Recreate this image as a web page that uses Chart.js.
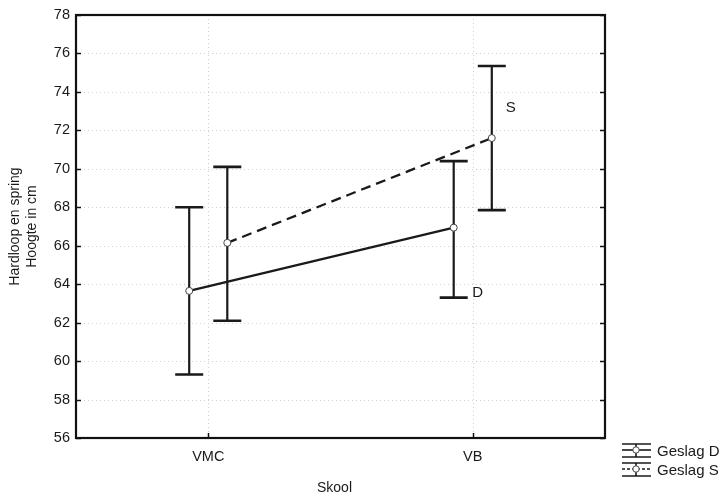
<!DOCTYPE html>
<html>
<head>
<meta charset="utf-8">
<script src="https://cdn.jsdelivr.net/npm/chart.js@4/dist/chart.umd.min.js"></script>
<style>
  html, body { margin: 0; padding: 0; background: #ffffff; }
  #wrap { width: 723px; height: 499px; }
</style>
</head>
<body>
<div id="wrap"><canvas id="c" width="723" height="499"></canvas></div>
<script>
// ---- Data ----
const categories = ['VMC', 'VB'];
const seriesNames = ['Geslag D', 'Geslag S'];
const seriesTags = ['D', 'S'];
const dMean = [63.65, 66.94];
const dLow  = [59.3, 63.3];
const dHigh = [68.0, 70.4];
const sMean = [66.15, 71.6];
const sLow  = [62.1, 67.85];
const sHigh = [70.1, 75.35];
const yTickValues = [56, 58, 60, 62, 64, 66, 68, 70, 72, 74, 76, 78];
const yMin = 56, yMax = 78;

const FONT = '"Liberation Sans", Arial, sans-serif';
const INK = '#1a1a1a';
const groupOffset = [-0.072, 0.072];   // side-by-side shift within a category

const series = [
  { name: seriesNames[0], tag: seriesTags[0], mean: dMean, low: dLow, high: dHigh, dash: [] },
  { name: seriesNames[1], tag: seriesTags[1], mean: sMean, low: sLow, high: sHigh, dash: [10, 6] }
];

const datasets = series.map((s, k) => ({
  label: s.name,
  data: categories.map((c, i) => ({ x: i + groupOffset[k], y: s.mean[i] })),
  showLine: true,
  borderColor: INK,
  borderWidth: 2.3,
  borderDash: s.dash,
  pointRadius: 3.5,
  pointHoverRadius: 3.5,
  pointBackgroundColor: '#ffffff',
  pointBorderColor: '#444444',
  pointBorderWidth: 1,
  fill: false,
  tension: 0
}));

const customDraw = {
  id: 'customDraw',
  beforeDatasetsDraw(chart) {
    const ctx = chart.ctx, a = chart.chartArea;
    const xs = chart.scales.x, ys = chart.scales.y;
    ctx.save();
    // dotted grid
    ctx.strokeStyle = '#cfcfcf';
    ctx.lineWidth = 1;
    ctx.setLineDash([1, 3]);
    yTickValues.forEach(v => {
      if (v === yMin || v === yMax) return;
      const y = Math.round(ys.getPixelForValue(v)) + 0.5;
      ctx.beginPath(); ctx.moveTo(a.left, y); ctx.lineTo(a.right, y); ctx.stroke();
    });
    categories.forEach((c, i) => {
      const x = Math.round(xs.getPixelForValue(i)) + 0.5;
      ctx.beginPath(); ctx.moveTo(x, a.top); ctx.lineTo(x, a.bottom); ctx.stroke();
    });
    ctx.setLineDash([]);
    // error bars
    ctx.strokeStyle = INK;
    series.forEach((s, k) => {
      categories.forEach((c, i) => {
        const x = xs.getPixelForValue(i + groupOffset[k]);
        const yh = ys.getPixelForValue(s.high[i]);
        const yl = ys.getPixelForValue(s.low[i]);
        ctx.lineWidth = 2.2;
        ctx.beginPath(); ctx.moveTo(x, yh); ctx.lineTo(x, yl); ctx.stroke();
        ctx.lineWidth = 2.6;
        ctx.beginPath();
        ctx.moveTo(x - 14, yh); ctx.lineTo(x + 14, yh);
        ctx.moveTo(x - 14, yl); ctx.lineTo(x + 14, yl);
        ctx.stroke();
      });
    });
    ctx.restore();
  },
  afterDraw(chart) {
    const ctx = chart.ctx, a = chart.chartArea;
    const xs = chart.scales.x, ys = chart.scales.y;
    ctx.save();
    // frame
    ctx.strokeStyle = '#111';
    ctx.lineWidth = 2.2;
    ctx.strokeRect(a.left, a.top, a.right - a.left, a.bottom - a.top);
    // inward tick marks
    ctx.lineWidth = 1.5;
    yTickValues.forEach(v => {
      const y = Math.round(ys.getPixelForValue(v)) + 0.5;
      ctx.beginPath();
      ctx.moveTo(a.left, y); ctx.lineTo(a.left + 5, y);
      ctx.moveTo(a.right, y); ctx.lineTo(a.right - 5, y);
      ctx.stroke();
    });
    categories.forEach((c, i) => {
      const x = Math.round(xs.getPixelForValue(i)) + 0.5;
      ctx.beginPath(); ctx.moveTo(x, a.bottom); ctx.lineTo(x, a.bottom - 5); ctx.stroke();
    });
    // series tags next to the last category
    ctx.fillStyle = INK;
    ctx.font = '15px ' + FONT;
    ctx.textAlign = 'center';
    ctx.textBaseline = 'middle';
    const last = categories.length - 1;
    {
      const s = series[1];
      const x = xs.getPixelForValue(last + groupOffset[1]);
      const y = ys.getPixelForValue(s.mean[last]);
      ctx.fillText(s.tag, x + 19, y - 30);
    }
    {
      const s = series[0];
      const x = xs.getPixelForValue(last + groupOffset[0]);
      const y = ys.getPixelForValue(s.low[last]);
      ctx.fillText(s.tag, x + 24, y - 5);
    }
    // axis titles
    ctx.font = '14px ' + FONT;
    ctx.save();
    ctx.translate(15, (a.top + a.bottom) / 2);
    ctx.rotate(-Math.PI / 2);
    ctx.fillText('Hardloop en spring', 0, 0);
    ctx.fillText('Hoogte in cm', 0, 17);
    ctx.restore();
    ctx.fillText('Skool', (a.left + a.right) / 2 - 6, 488);
    // legend
    const lx0 = 622, lx1 = 651, lxm = 636;
    series.forEach((s, k) => {
      const yc = 451 + k * 19;
      ctx.strokeStyle = INK;
      ctx.lineWidth = 1.6;
      ctx.setLineDash([]);
      ctx.beginPath();
      ctx.moveTo(lx0, yc - 7); ctx.lineTo(lx1, yc - 7);
      ctx.moveTo(lx0, yc + 6); ctx.lineTo(lx1, yc + 6);
      ctx.moveTo(lxm, yc - 7); ctx.lineTo(lxm, yc + 6);
      ctx.stroke();
      ctx.setLineDash(s.dash.length ? [3, 2] : []);
      ctx.beginPath(); ctx.moveTo(lx0, yc - 1); ctx.lineTo(lx1, yc - 1); ctx.stroke();
      ctx.setLineDash([]);
      ctx.fillStyle = '#ffffff';
      ctx.strokeStyle = '#444';
      ctx.lineWidth = 1;
      ctx.beginPath(); ctx.arc(lxm, yc - 1, 3.2, 0, Math.PI * 2); ctx.fill(); ctx.stroke();
      ctx.fillStyle = INK;
      ctx.textAlign = 'left';
      ctx.font = '15px ' + FONT;
      ctx.fillText(s.name, 657, yc + 1);
    });
    ctx.restore();
  }
};

new Chart(document.getElementById('c'), {
  type: 'line',
  data: { datasets },
  options: {
    responsive: false,
    animation: false,
    events: [],
    layout: { padding: { left: 0, top: 15, right: 118, bottom: 0 } },
    plugins: { legend: { display: false }, tooltip: { enabled: false }, title: { display: false } },
    scales: {
      x: {
        type: 'linear',
        min: -0.5,
        max: 1.5,
        afterBuildTicks: (scale) => { scale.ticks = categories.map((c, i) => ({ value: i })); },
        afterFit: (scale) => { scale.height = 61; },
        ticks: {
          callback: (v) => categories[v] !== undefined ? categories[v] : '',
          color: INK,
          font: { family: FONT, size: 14.5 },
          padding: 10,
          maxRotation: 0,
          autoSkip: false
        },
        grid: { display: false, drawTicks: false },
        border: { display: false }
      },
      y: {
        type: 'linear',
        min: yMin,
        max: yMax,
        afterBuildTicks: (scale) => { scale.ticks = yTickValues.map(v => ({ value: v })); },
        afterFit: (scale) => { scale.width = 76; },
        ticks: {
          color: INK,
          font: { family: FONT, size: 14.5 },
          padding: 6,
          autoSkip: false
        },
        grid: { display: false, drawTicks: false },
        border: { display: false }
      }
    }
  },
  plugins: [customDraw]
});
</script>
</body>
</html>
